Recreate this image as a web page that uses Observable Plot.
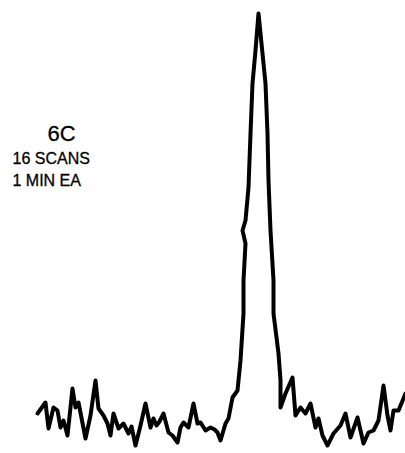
<!DOCTYPE html>
<html>
<head>
<meta charset="utf-8">
<script src="https://cdn.jsdelivr.net/npm/d3@7"></script>
<script src="https://cdn.jsdelivr.net/npm/@observablehq/plot@0.6"></script>
<style>
  html, body { margin: 0; padding: 0; background: #fff; }
  #chart svg { display: block; }
</style>
</head>
<body>
<div id="chart"></div>
<script>
// Spectrum trace: channel number and detector counts
const channel = [
  37, 45, 48, 53, 57, 60, 63, 67, 72, 75, 78, 85, 90, 95, 98, 103, 107, 110, 113, 118,
  123, 128, 131, 135, 140, 145, 150, 153, 156, 159, 163, 168, 172, 177, 180, 183, 188, 193, 197, 200,
  205, 210, 214, 217, 220, 225, 228, 232, 237, 240, 243, 243, 245, 242, 245, 248, 250, 252, 255, 258,
  262, 265, 267, 268, 270, 273, 273, 278, 280, 280, 285, 292, 295, 300, 305, 310, 315, 318, 322,
  327, 333, 340, 345, 350, 357, 363, 368, 373, 378, 383, 387, 390, 393, 398, 405
];
const counts = [
  40, 51, 25, 46, 43, 26, 33, 18, 65, 46, 51, 15, 38, 73, 45, 38, 30, 18, 40, 25,
  30, 20, 27, 8, 28, 50, 26, 35, 28, 32, 40, 21, 18, 11, 26, 31, 26, 50, 30, 31,
  23, 26, 24, 21, 13, 30, 35, 56, 63, 93, 140, 173, 210, 223, 233, 266, 320, 370, 403, 440,
  400, 370, 320, 273, 223, 173, 140, 100, 73, 46, 60, 76, 38, 46, 40, 50, 26, 35, 18,
  8, 20, 28, 40, 16, 36, 10, 21, 23, 33, 68, 38, 23, 43, 43, 60
];

// Annotation lines printed beside the peak
const labels = ["6C", "16 SCANS", "1 MIN EA"];
const labelSizes = [22, 16, 16];
const labelDx = [47, 12, 12];
const labelDy = [140, 163, 185];

const trace = channel.map((c, i) => ({channel: c, counts: counts[i]}));
const notes = labels.map((t, i) => ({text: t, size: labelSizes[i], dx: labelDx[i], dy: labelDy[i]}));

const chart = Plot.plot({
  width: 405,
  height: 453,
  margin: 0,
  style: {background: "#fff", fontFamily: "'Liberation Sans', Arial, sans-serif"},
  x: {domain: [0, 405], axis: null},
  y: {domain: [0, 453], axis: null},
  marks: [
    Plot.line(trace, {
      x: "channel",
      y: "counts",
      stroke: "#000",
      strokeWidth: 4,
      strokeLinejoin: "round",
      strokeLinecap: "round"
    }),
    ...notes.map(n => Plot.text([n], {
      text: "text",
      frameAnchor: "top-left",
      textAnchor: "start",
      lineAnchor: "bottom",
      dx: n.dx,
      dy: n.dy,
      fontSize: n.size,
      fill: "#000",
      stroke: "#000",
      strokeWidth: 0.3
    }))
  ]
});

document.getElementById("chart").appendChild(chart);
</script>
</body>
</html>
